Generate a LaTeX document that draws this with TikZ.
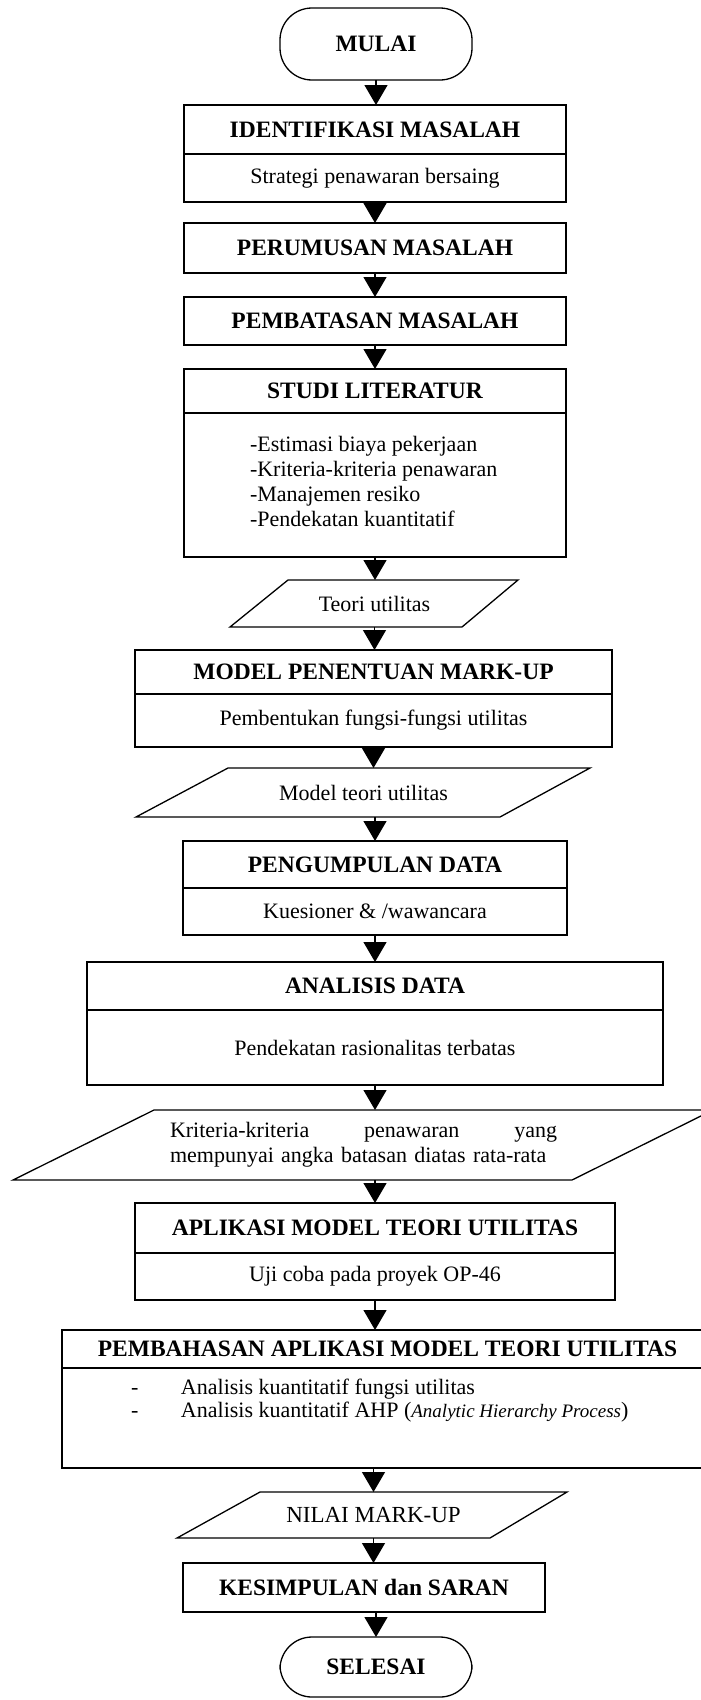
\documentclass[tikz,border=0pt]{standalone}
\usepackage{fontspec}
\setmainfont{Liberation Serif}
\usetikzlibrary{arrows.meta,calc}

\begin{document}
\begin{tikzpicture}[x=1pt,y=-1pt,
  every node/.style={inner sep=0pt,outer sep=0pt},
  ttl/.style={font=\fontsize{23.5}{26}\selectfont\bfseries},
  txt/.style={font=\fontsize{22}{25}\selectfont},
  stepbox/.style={draw,line width=1.3pt,rectangle,minimum width=#1},
  term/.style={draw,line width=1.3pt,rectangle,rounded corners=32pt,minimum width=192pt},
  ioline/.style={draw,line width=1.3pt,line join=miter},
  arr/.style={line width=1.3pt,-{Triangle[width=23pt,length=20pt]}}
]
\useasboundingbox (0,0) rectangle (701,1700);
\fill[white] (0,0) rectangle (701,1700);
\clip (0,0) rectangle (701,1700);

% terminator: start
\node[term,ttl,minimum height=72pt] (mulai) at (376,44) {MULAI};

% problem identification
\node[stepbox=382pt,ttl,minimum height=49pt] (identt) at (375,129.5) {IDENTIFIKASI MASALAH};
\node[stepbox=382pt,txt,minimum height=48pt] (identb) at (375,178) {Strategi penawaran bersaing};

\node[stepbox=382pt,ttl,minimum height=50pt] (perum) at (375,248) {PERUMUSAN MASALAH};
\node[stepbox=382pt,ttl,minimum height=48pt] (pembat) at (375,321) {PEMBATASAN MASALAH};

% literature study
\node[stepbox=382pt,ttl,minimum height=44pt] (studit) at (375,391) {STUDI LITERATUR};
\node[stepbox=382pt,minimum height=144pt] (studib) at (375,485) {};
\node[anchor=north west,align=left,font=\fontsize{22}{25}\selectfont] (studitxt) at (250,436)
  {-Estimasi biaya pekerjaan\\-Kriteria-kriteria penawaran\\-Manajemen resiko\\-Pendekatan kuantitatif};

% input: utility theory
\node[txt,minimum width=200pt,minimum height=47pt] (teori) at (374.5,603.5) {Teori utilitas};
\draw[ioline] (288,580) -- (518,580) -- (462,627) -- (230,627) -- cycle;

% mark-up model
\node[stepbox=477pt,ttl,minimum height=44pt] (modelt) at (373.5,672) {MODEL PENENTUAN MARK-UP};
\node[stepbox=477pt,txt,minimum height=53pt] (modelb) at (373.5,720.5) {Pembentukan fungsi-fungsi utilitas};

\node[txt,minimum width=250pt,minimum height=49pt] (modelpara) at (363.5,792.5) {Model teori utilitas};
\draw[ioline] (228,768) -- (590,768) -- (500,817) -- (136,817) -- cycle;

% data collection
\node[stepbox=384pt,ttl,minimum height=47pt] (pengt) at (375,864.5) {PENGUMPULAN DATA};
\node[stepbox=384pt,txt,minimum height=47pt] (pengb) at (375,911.5) {Kuesioner \& /wawancara};

% data analysis
\node[stepbox=576pt,ttl,minimum height=48pt] (anat) at (375,986) {ANALISIS DATA};
\node[stepbox=576pt,txt,minimum height=75pt] (anab) at (375,1047.5) {Pendekatan rasionalitas terbatas};

\node[txt,align=left,text width=387pt,minimum height=70pt] (krit) at (363.5,1145)
  {\makebox[387pt]{Kriteria-kriteria\hfill penawaran\hfill yang}\\mempunyai angka batasan diatas rata-rata};
\draw[ioline] (154,1110) -- (713,1110) -- (572,1180) -- (13,1180) -- cycle;

% application
\node[stepbox=480pt,ttl,minimum height=50pt] (aplt) at (375,1228) {APLIKASI MODEL TEORI UTILITAS};
\node[stepbox=480pt,txt,minimum height=47pt] (aplb) at (375,1276.5) {Uji coba pada proyek OP-46};

% discussion
\node[stepbox=651pt,ttl,minimum height=38pt] (pembt) at (387.5,1349) {PEMBAHASAN APLIKASI MODEL TEORI UTILITAS};
\node[stepbox=651pt,minimum height=100pt] (pembb) at (387.5,1418) {};
\node[anchor=north west,align=left,font=\fontsize{22}{23}\selectfont] (pembtxt) at (131,1379)
  {\makebox[50pt][l]{-}Analisis kuantitatif fungsi utilitas\\
   \makebox[50pt][l]{-}Analisis kuantitatif AHP ({\itshape\fontsize{19}{23}\selectfont Analytic Hierarchy Process})};

% output: mark-up value
\node[minimum width=200pt,minimum height=46pt,font=\fontsize{23}{26}\selectfont] (nilai) at (373.5,1515) {NILAI MARK-UP};
\draw[ioline] (260,1492) -- (567,1492) -- (490,1538) -- (177,1538) -- cycle;

\node[stepbox=362pt,ttl,minimum height=49pt] (kesim) at (364,1587.5) {KESIMPULAN dan SARAN};

% terminator: end
\node[term,ttl,minimum height=60pt] (selesai) at (376,1667) {SELESAI};

% flow connectors
\draw[arr] (mulai.south) -- (mulai.south |- identt.north);
\draw[arr] (identb.south) -- (identb.south |- perum.north);
\draw[arr] (perum.south) -- (perum.south |- pembat.north);
\draw[arr] (pembat.south) -- (pembat.south |- studit.north);
\draw[arr] (studib.south) -- (studib.south |- teori.north);
\draw[arr] (teori.south) -- (teori.south |- modelt.north);
\draw[arr] (modelb.south) -- (modelb.south |- modelpara.north);
\draw[arr] (pengt.north |- modelpara.south) -- (pengt.north);
\draw[arr] (pengb.south) -- (pengb.south |- anat.north);
\draw[arr] (anab.south) -- (anab.south |- krit.north);
\draw[arr] (aplt.north |- krit.south) -- (aplt.north);
\draw[arr] (aplb.south) -- (aplb.south |- pembt.north);
\draw[arr] (nilai.north |- pembb.south) -- (nilai.north);
\draw[arr] (nilai.south) -- (nilai.south |- kesim.north);
\draw[arr] (selesai.north |- kesim.south) -- (selesai.north);
\end{tikzpicture}
\end{document}
